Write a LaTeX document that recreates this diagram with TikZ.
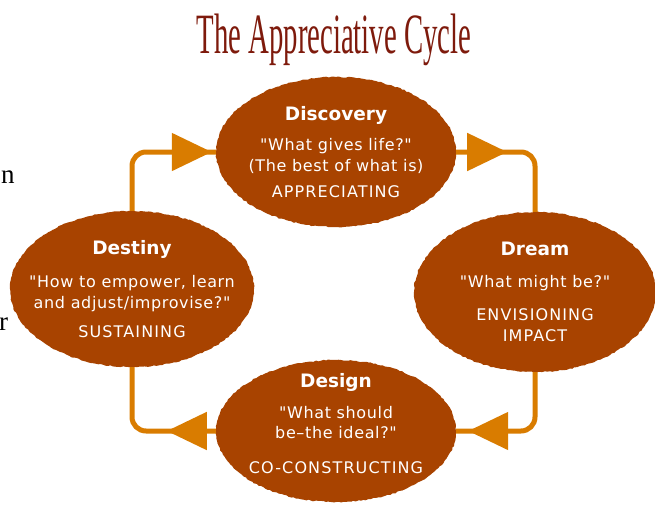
\documentclass[tikz,border=0pt]{standalone}
\usepackage{fontspec}
\setmainfont{DejaVu Sans}[Ligatures=TeXOff]
\newfontfamily\titlefont{Liberation Serif}
\usetikzlibrary{positioning,arrows.meta,shapes.geometric,decorations.pathmorphing,decorations.markings}
\definecolor{stagecolour}{HTML}{A84300}
\definecolor{flowcolour}{HTML}{D97C00}
\definecolor{titlecolour}{HTML}{7E1A0C}
\newcommand{\stagename}[1]{{\fontsize{18.5}{20}\selectfont\bfseries\addfontfeature{LetterSpace=0}#1}}
\newcommand{\stageverb}[1]{{\fontsize{16}{15}\selectfont\addfontfeature{LetterSpace=7}#1}}

\begin{document}
\begin{tikzpicture}[
  x=1pt, y=-1pt,
  stage/.style = {ellipse, fill=stagecolour, text=white, align=center,
    inner xsep=-25pt, inner ysep=-10pt,
    minimum width=240pt, minimum height=150pt,
    font=\fontsize{16}{15}\selectfont\addfontfeature{LetterSpace=4},
    decorate, decoration={random steps, segment length=2.5pt, amplitude=0.6pt}},
  flow/.style = {flowcolour, line width=5pt, rounded corners=14pt},
  tipat/.style = {postaction={decorate, decoration={markings,
    mark=at position #1 with {\arrow{Triangle[length=40pt, width=37pt]}}}}},
  stray/.style = {font=\titlefont\fontsize{27}{30}\selectfont, inner sep=0pt}
  ]
  \pgfmathsetseed{7}
  \useasboundingbox (0,0) rectangle (655,504);

  \node[text=titlecolour, font=\titlefont\fontsize{57}{60}\selectfont] (title) at (334,40)
    {\scalebox{0.505}[1]{The Appreciative Cycle}};

  \node[stage] (discovery) at (336,152) {\stagename{Discovery}\\[13pt]
    "What gives life?"\\[5pt] (The best of what is)\\[11pt] \stageverb{APPRECIATING}};
  \node[stage, minimum width=242pt, minimum height=160pt] (dream) at (535,292)
    {\stagename{Dream}\\[17pt] "What might be?"\\[17pt] \stageverb{ENVISIONING}\\[6pt] \stageverb{IMPACT}};
  \node[stage, minimum width=244pt, minimum height=156pt] (destiny) at (132,289)
    {\stagename{Destiny}\\[16pt] "How to empower, learn\\[4pt]
    and adjust/improvise?"\\[13pt] \stageverb{SUSTAINING}};
  \node[stage, minimum height=142pt] (design) at (336,431)
    {\stagename{Design}\\[13pt] "What should\\[5pt] be–the ideal?"\\[20pt]
    \stageverb{CO-CONSTRUCTING}\\[0pt]};

  \draw[flow, tipat=-4pt] (destiny.north) |- (discovery.west);
  \draw[flow, tipat=51pt] (discovery.east) -| (dream.north);
  \draw[flow, tipat=-12pt] (dream.south) |- (design.east);
  \draw[flow, tipat=49pt] (design.west) -| (destiny.south);

  \node[stray, anchor=base west] (frag_n) at (1,183) {n};
  \node[stray, anchor=base west] (frag_r) at (-1,330) {r};

\end{tikzpicture}
\end{document}
